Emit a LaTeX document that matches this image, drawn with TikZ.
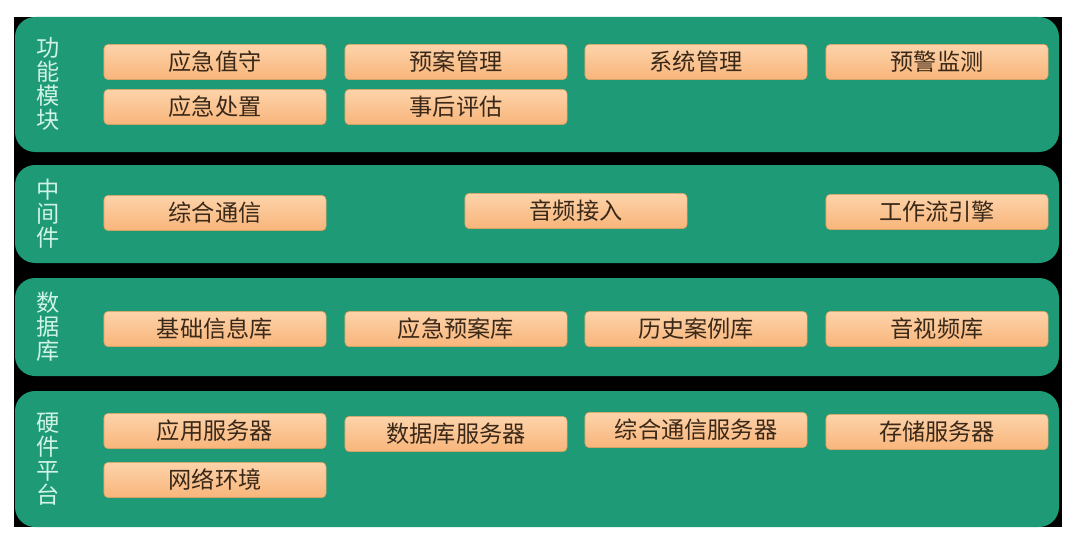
\documentclass[tikz,border=0pt]{standalone}
\usepackage{fontspec}
\newfontfamily\cjk{Noto Sans CJK SC}
\usepackage{tikz}
\usetikzlibrary{positioning,calc}
\usepackage{xcolor}

\definecolor{bandgreen}{HTML}{1F9A77}
\definecolor{boxtop}{HTML}{FDD3AA}
\definecolor{boxbot}{HTML}{F8B57A}
\definecolor{boxedge}{HTML}{E8A060}
\definecolor{itemtext}{HTML}{3A2818}
\definecolor{tagtext}{HTML}{CFF3E4}

\tikzset{
    band/.style={fill=bandgreen, rounded corners=0.5cm},
    item/.style={rectangle, rounded corners=3pt, draw=boxedge, line width=0.4pt,
        top color=boxtop, bottom color=boxbot, minimum width=5.55cm,
        minimum height=0.88cm, inner sep=0pt, text=itemtext,
        font=\cjk\fontsize{16.5}{18}\selectfont},
    tag/.style={align=center, text=tagtext, inner sep=0pt,
        font=\cjk\fontsize{16.5}{17}\selectfont}
}

\begin{document}
\begin{tikzpicture}[x=0.025cm,y=-0.025cm]
            \useasboundingbox (0,0) rectangle (1078,545);
            \fill[white] (0,0) rectangle (1078,545);
            \fill[black] (14,17) rectangle (1062,527);

            % Bands
            \fill[band] (15,17) rectangle (1059,152);
            \fill[band] (15,165) rectangle (1059,263);
            \fill[band] (15,278) rectangle (1059,376);
            \fill[band] (15,391) rectangle (1059,527);

            % Band labels
            \node[tag] (tagfunc) at (48,84) {功\\能\\模\\块};
            \node[tag] (tagmid) at (48,214) {中\\间\\件};
            \node[tag] (tagdb) at (48,327) {数\\据\\库};
            \node[tag] (taghw) at (48,459) {硬\\件\\平\\台};

            % Function modules
            \node[item] (duty) at (215,62) {应急值守};
            \node[item] (plan) at (456,62) {预案管理};
            \node[item] (sys) at (696,62) {系统管理};
            \node[item] (warn) at (937,62) {预警监测};
            \node[item] (handle) at (215,107) {应急处置};
            \node[item] (assess) at (456,107) {事后评估};

            % Middleware
            \node[item] (comm) at (215,213) {综合通信};
            \node[item] (audio) at (576,211) {音频接入};
            \node[item] (flow) at (937,212) {工作流引擎};

            % Databases
            \node[item] (basedb) at (215,329) {基础信息库};
            \node[item] (plandb) at (456,329) {应急预案库};
            \node[item] (casedb) at (696,329) {历史案例库};
            \node[item] (avdb) at (937,329) {音视频库};

            % Hardware
            \node[item] (appsrv) at (215,431) {应用服务器};
            \node[item] (dbsrv) at (456,434) {数据库服务器};
            \node[item] (commsrv) at (696,430) {综合通信服务器};
            \node[item] (storesrv) at (937,432) {存储服务器};
            \node[item] (net) at (215,480) {网络环境};
        \end{tikzpicture}
\end{document}
